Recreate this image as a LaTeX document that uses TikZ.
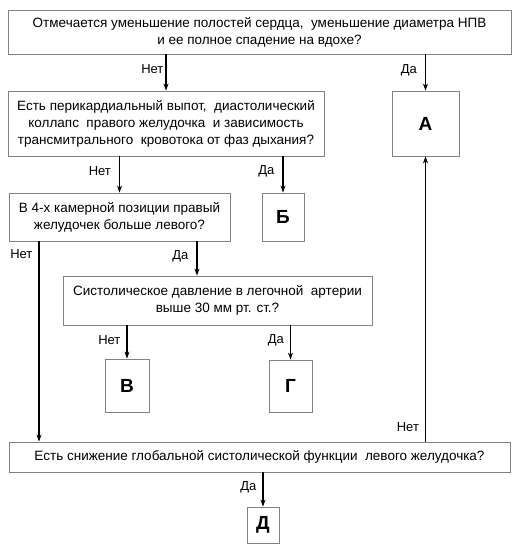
\documentclass[tikz,border=0pt]{standalone}
\usepackage{fontspec}
\setmainfont{Liberation Sans}
\usepackage{xcolor}
\usepackage{tikz}
\usetikzlibrary{arrows.meta,positioning,calc}

\definecolor{boxgray}{RGB}{130,130,130}

\begin{document}
\begin{tikzpicture}[
    x=1pt, y=-1pt,
    box/.style={rectangle, draw=boxgray, line width=0.8pt, inner sep=0pt, align=center, font=\fontsize{13.5}{17}\selectfont},
    ans/.style={box, font=\fontsize{19}{20}\selectfont\bfseries},
    lbl/.style={font=\fontsize{13}{15}\selectfont, inner sep=2pt},
    arr/.style={-{Stealth[length=7pt,width=5pt]}, line width=1.1pt}
  ]
    \useasboundingbox (0,0) rectangle (518,556);
    \node[box, minimum width=503, minimum height=44] (q1) at (259.5,32) {Отмечается уменьшение полостей сердца,\ \ уменьшение диаметра НПВ\\и ее полное спадение на вдохе?};
    \node[box, minimum width=316, minimum height=65] (q2) at (166,123.5) {Есть перикардиальный выпот,\ \ диастолический\\коллапс\ \ правого желудочка\ \ и зависимость\\трансмитрального\ \ кровотока от фаз дыхания?};
    \node[ans, minimum width=67, minimum height=65] (a) at (425.5,123.5) {А};
    \node[box, minimum width=221, minimum height=48] (q3) at (119.5,217) {В 4-х камерной позиции правый\\желудочек больше левого?};
    \node[ans, minimum width=42, minimum height=48] (b) at (283,217) {Б};
    \node[box, minimum width=309, minimum height=49] (q4) at (217.5,300.5) {Систолическое давление в легочной\ \ артерии\\выше 30 мм рт. ст.?};
    \node[ans, minimum width=44, minimum height=53] (v) at (127,385.5) {В};
    \node[ans, minimum width=43, minimum height=52] (g) at (290.5,386) {Г};
    \node[box, minimum width=501, minimum height=30] (q5) at (259.5,457) {Есть снижение глобальной систолической функции\ \ левого желудочка?};
    \node[ans, minimum width=32, minimum height=36] (d) at (263,525) {Д};

    \draw[arr] (q1.south -| q2.north) -- node[lbl, left, pos=0.4] {Нет} (q2.north);
    \draw[arr] (q1.south -| a.north) -- node[lbl, left=6pt, pos=0.45] {Да} (a.north);
    \draw[arr] (q2.south -| q3.north) -- node[lbl, left=6pt, pos=0.4] {Нет} (q3.north);
    \draw[arr] (q2.south -| b.north) -- node[lbl, left=6pt, pos=0.4] {Да} (b.north);
    \draw[arr] ([xshift=-80.5pt]q3.south) -- node[lbl, left=4pt, pos=0.065] {Нет} ([xshift=-80.5pt]q3.south |- q5.north);
    \draw[arr] ([xshift=77.5pt]q3.south) -- node[lbl, left=6pt, pos=0.45] {Да} ([xshift=77.5pt]q3.south |- q4.north);
    \draw[arr] (q4.south -| v.north) -- node[lbl, left=4pt, pos=0.45] {Нет} (v.north);
    \draw[arr] (q4.south -| g.north) -- node[lbl, left=4pt, pos=0.45] {Да} (g.north);
    \draw[arr] (q5.north -| a.south) -- node[lbl, left=4pt, pos=0.05] {Нет} (a.south);
    \draw[arr] (q5.south -| d.north) -- node[lbl, left=4pt, pos=0.45] {Да} (d.north);
\end{tikzpicture}
\end{document}
